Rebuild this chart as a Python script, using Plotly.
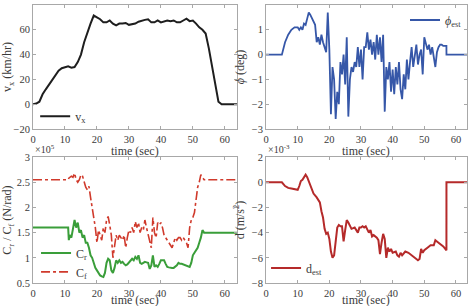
import plotly.graph_objects as go

# ---- data ----
t_vx = [0,1,2,3,4,5,6,7,8,9,10,11,12,13,14,15,16,17,18,19,20,21,22,23,24,25,26,27,28,29,30,31,32,33,34,35,36,37,38,39,40,41,42,43,44,45,46,47,48,49,50,51,52,53,54,55,56,57,58,59,60,64]
vx = [0,0.5,2,8,12,16,20,24,27,29,30,30.5,29.5,30,34,40,50,58,65,71.5,70,68.5,66,66,67.5,65,63.5,65,65,65.5,64,64.5,65,66.5,67.5,68,68.5,66,66,67.5,66,66.5,67.5,67,67.5,66,66,67.5,69,67,67.5,65,62,60,57,45,30,15,2,0,0,0]

t_phi = [0,5,6,7,8,9,10,10.5,11,11.5,12,12.5,13,13.5,14,14.5,15,15.5,16,16.5,17,17.5,18,18.5,19,19.5,20,20.5,21,21.5,22,22.5,23,23.5,24,24.5,25,25.5,26,26.5,27,27.5,28,28.5,29,29.5,30,30.5,31,31.5,32,32.5,33,33.5,34,34.5,35,35.5,36,36.5,37,37.5,38,38.5,39,39.5,40,40.5,41,41.5,42,42.5,43,43.5,44,44.5,45,45.5,46,46.5,47,47.5,48,48.5,49,49.5,50,50.5,51,51.5,52,52.5,53,53.5,54,54.5,55,55.5,56,56.5,57,57.01,64]
phi = [0,0,0.5,0.8,1.0,1.1,1.1,1.0,1.1,1.0,1.25,1.2,1.45,1.7,1.6,1.45,1.3,1.2,0.5,0.7,0.4,0.8,0.5,0.3,0.1,1.7,0.2,-2.4,-0.5,-1.0,-2.6,-1.5,-2.0,-0.3,-0.8,0.0,-1.2,0.7,-2.5,-1.0,-0.5,-0.7,-0.3,-0.5,0.3,-0.5,0.2,-1.0,0.3,0.3,0.9,0.2,0.6,0.0,0.5,-0.2,0.8,0.0,0.7,-0.3,0.8,-2.3,-0.5,-1.0,-0.3,-1.5,-0.6,-1.6,-0.5,-1.2,-0.3,-1.4,-1.8,-0.8,-1.4,-0.2,-1.0,-0.3,0.3,-0.5,0.0,0.4,-0.4,0.0,0.2,-0.8,0.7,0.5,0.2,0.4,0.0,0.3,-0.2,-0.5,0.1,0.3,0.4,0.4,0.35,0.35,0.35,0.0,0.0]

t_c = [0,11,11.2,11.5,12,12.5,13,13.5,14,14.5,15,15.5,16,16.5,17,17.5,18,18.5,19,19.5,20,20.5,21,21.5,22,22.5,23,23.5,24,24.5,25,25.5,26,26.5,27,27.5,28,28.5,29,29.5,30,30.5,31,31.5,32,32.5,33,33.5,34,34.5,35,35.5,36,36.5,37,37.5,38,38.5,39,39.5,40,40.5,41,41.5,42,42.5,43,43.5,44,44.5,45,45.5,46,46.5,47,47.5,48,48.5,49,49.5,50,50.5,51,51.5,52,52.5,53,53.5,64]
Cr = [1.6,1.6,1.35,1.45,1.4,1.6,1.75,1.6,1.7,1.5,1.55,1.4,1.45,1.3,1.3,1.2,1.05,1.0,0.9,0.8,0.75,0.7,0.65,0.63,0.62,0.7,0.9,0.98,0.95,0.75,0.7,0.8,0.95,0.9,0.95,0.9,0.92,0.88,0.85,0.87,0.9,0.95,0.98,0.95,1.02,0.98,1.05,0.9,0.88,0.9,0.92,0.91,0.9,0.78,0.85,1.05,0.82,0.85,0.82,0.88,0.95,0.95,0.95,0.88,0.82,0.81,0.8,0.8,0.8,0.82,0.85,0.9,0.88,0.88,0.87,0.86,0.85,0.84,0.82,0.9,1.05,1.1,1.15,1.2,1.3,1.4,1.55,1.5,1.5]
Cf = [2.55,2.55,2.58,2.6,2.62,2.6,2.68,2.55,2.5,2.55,2.65,2.62,2.5,2.4,2.35,2.42,2.2,2.0,1.8,1.6,1.3,1.55,1.45,1.35,1.6,1.5,1.75,1.82,1.65,1.45,1.0,1.2,1.45,1.35,1.45,1.4,1.35,1.45,1.2,1.4,1.55,1.5,1.6,1.5,1.72,1.6,1.7,1.5,1.6,1.55,1.75,1.6,1.45,1.35,1.2,1.8,1.5,1.4,1.7,1.65,1.7,1.6,1.45,1.4,1.35,1.3,1.25,1.2,1.3,1.4,1.35,1.4,1.4,1.35,1.4,1.35,1.3,1.2,1.6,1.75,1.8,1.9,2.2,2.4,2.5,2.65,2.6,2.55,2.55]

t_d = [0,5,6,7,8,9,10,10.5,11,11.5,12,12.5,13,13.5,14,14.5,15,16,17,17.5,18,18.5,19,19.5,20,20.5,21,21.5,22,22.5,23,23.5,24,24.5,25,25.5,26,26.5,27,28,28.5,29,29.5,30,30.5,31,31.5,32,32.5,33,33.5,34,35,35.5,36,36.5,37,37.5,38,38.5,39,39.5,40,41,41.5,42,42.5,43,43.5,44,45,46,47,48,48.5,49,49.5,50,51,52,53,53.5,54,55,56,57,57.01,64]
d = [0,0,-0.3,-0.45,-0.5,-0.55,-0.6,-0.3,0.1,0.2,0.4,0.6,0.4,0.1,-0.3,-0.6,-0.9,-1.2,-1.6,-2.3,-2.8,-3.7,-4.1,-4.0,-4.5,-5.5,-6.0,-5.8,-4.5,-3.6,-3.4,-3.5,-3.5,-4.7,-3.8,-3.0,-3.2,-3.5,-3.7,-3.6,-3.8,-4.0,-3.6,-3.6,-3.5,-3.6,-3.5,-3.8,-4.0,-3.8,-4.3,-4.2,-4.4,-4.6,-5.7,-4.8,-4.1,-4.5,-6.0,-5.2,-5.5,-5.3,-5.6,-5.5,-5.8,-5.9,-5.6,-5.8,-5.6,-5.5,-5.6,-5.8,-6.0,-6.2,-6.1,-5.3,-5.6,-5.4,-5.2,-5.0,-5.0,-4.6,-4.7,-4.9,-5.1,-5.4,0,0]

FONT = "Times New Roman, Liberation Serif, DejaVu Serif, serif"
AXC = "#a8a8a8"
TXT = "#3a3a3a"

fig = go.Figure()
fig.add_trace(go.Scatter(x=t_vx, y=vx, mode="lines", name="v<sub>x</sub>",
                         line=dict(color="#1e1e1e", width=2), xaxis="x", yaxis="y", legend="legend"))
fig.add_trace(go.Scatter(x=t_phi, y=phi, mode="lines", name="<i>ϕ</i><sub>est</sub>",
                         line=dict(color="#3657a8", width=1.8), xaxis="x2", yaxis="y2", legend="legend2"))
fig.add_trace(go.Scatter(x=t_c, y=Cr, mode="lines", name="C<sub>r</sub>",
                         line=dict(color="#3a9e3a", width=2), xaxis="x3", yaxis="y3", legend="legend3"))
fig.add_trace(go.Scatter(x=t_c, y=Cf, mode="lines", name="C<sub>f</sub>",
                         line=dict(color="#d03a2c", width=1.6, dash="dashdot"), xaxis="x3", yaxis="y3", legend="legend5"))
fig.add_trace(go.Scatter(x=t_d, y=d, mode="lines", name="d<sub>est</sub>",
                         line=dict(color="#b52a2a", width=2), xaxis="x4", yaxis="y4", legend="legend4"))

def xax(dom, anchor, rng):
    return dict(domain=dom, anchor=anchor, range=rng, tickvals=[0,10,20,30,40,50,60],
                showline=True, linecolor=AXC, linewidth=1, mirror="ticks", ticks="inside",
                ticklen=3, tickcolor=AXC, showgrid=False, zeroline=False, automargin=False,
                tickfont=dict(family=FONT, size=10.5, color=TXT))

def yax(dom, anchor, rng, tv, title):
    return dict(domain=dom, anchor=anchor, range=rng, tickvals=tv,
                showline=True, linecolor=AXC, linewidth=1, mirror="ticks", ticks="inside",
                ticklen=3, tickcolor=AXC, showgrid=False, zeroline=False, automargin=False,
                tickfont=dict(family=FONT, size=10.5, color=TXT),
                title=dict(text=title, font=dict(family=FONT, size=12, color=TXT), standoff=4))

LX = [0, 0.470]
RX = [0.537, 1]
TY = [0.554, 1]
BY = [0, 0.453]

def leg(x, y, xanchor="left"):
    return dict(x=x, y=y, xanchor=xanchor, yanchor="middle", bgcolor="rgba(0,0,0,0)",
                font=dict(family=FONT, size=12, color=TXT), itemwidth=30)

def xtitle(x, y):
    return dict(text="time (sec)", xref="paper", yref="paper", x=x, y=y,
                xanchor="center", yanchor="middle", showarrow=False,
                font=dict(family=FONT, size=12, color=TXT))

fig.update_layout(
    width=471, height=306,
    margin=dict(l=33, r=4, t=5, b=23),
    paper_bgcolor="white", plot_bgcolor="white",
    xaxis=xax(LX, "y", [0, 63.8]),
    yaxis=yax(TY, "x", [-20, 80], [-20,0,20,40,60,80], "v<sub>x</sub> (km/hr)"),
    xaxis2=xax(RX, "y2", [0, 63.5]),
    yaxis2=yax(TY, "x2", [-3, 2], [-3,-2,-1,0,1,2], "<i>ϕ</i> (deg)"),
    xaxis3=xax(LX, "y3", [0, 63.8]),
    yaxis3=yax(BY, "x3", [0.5, 3], [0.5,1,1.5,2,2.5,3], "C<sub>r</sub> / C<sub>f</sub> (N/rad)"),
    xaxis4=xax(RX, "y4", [0, 63.5]),
    yaxis4=yax(BY, "x4", [-8, 2], [-8,-6,-4,-2,0,2], "d (m/s<sup>2</sup>)"),
    showlegend=True,
    legend=leg(0.005, 0.60),
    legend2=leg(1.0, 0.946, "right"),
    legend3=leg(0.007, 0.108),
    legend5=leg(0.007, 0.040),
    legend4=leg(0.537, 0.054),
    annotations=[
        dict(text="×10<sup>5</sup>", xref="paper", yref="paper", x=0.0, y=0.452,
             xanchor="left", yanchor="bottom", showarrow=False,
             font=dict(family=FONT, size=10, color=TXT)),
        dict(text="×10<sup>-3</sup>", xref="paper", yref="paper", x=0.537, y=0.452,
             xanchor="left", yanchor="bottom", showarrow=False,
             font=dict(family=FONT, size=10, color=TXT)),
        xtitle(0.235, 0.476),
        xtitle(0.768, 0.476),
        xtitle(0.235, -0.062),
        xtitle(0.768, -0.062),
    ],
)

fig.write_html("out.html", config={"displayModeBar": False},
               post_script="document.body.style.margin='0px';document.body.style.padding='0px';")
